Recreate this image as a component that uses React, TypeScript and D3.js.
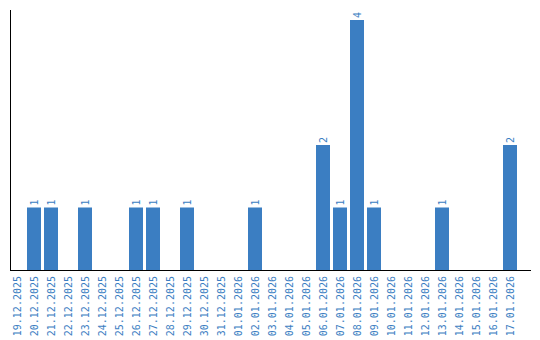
import React from "react";
import * as d3 from "d3";

const dates = [
  "19.12.2025", "20.12.2025", "21.12.2025", "22.12.2025", "23.12.2025", "24.12.2025",
  "25.12.2025", "26.12.2025", "27.12.2025", "28.12.2025", "29.12.2025", "30.12.2025",
  "31.12.2025", "01.01.2026", "02.01.2026", "03.01.2026", "04.01.2026", "05.01.2026",
  "06.01.2026", "07.01.2026", "08.01.2026", "09.01.2026", "10.01.2026", "11.01.2026",
  "12.01.2026", "13.01.2026", "14.01.2026", "15.01.2026", "16.01.2026", "17.01.2026",
];
const counts = [0, 1, 1, 0, 1, 0, 0, 1, 1, 0, 1, 0, 0, 0, 1, 0, 0, 0, 2, 1, 4, 1, 0, 0, 0, 1, 0, 0, 0, 2];

const W = 540;
const H = 340;
const BLUE = "#3b7ec2";
const FONT = "'DejaVu Sans Mono', monospace";

export default function App() {
  const x = d3.scaleBand<string>().domain(dates).range([8.5, 518.5]).paddingInner(3 / 17).paddingOuter(3 / 34);
  const y = d3.scaleLinear().domain([0, 4]).range([270, 20]);
  const bw = x.bandwidth();
  return (
    <svg width={W} height={H} style={{ position: "absolute", left: 0, top: 0, display: "block" }}>
      <rect width={W} height={H} fill="#fff" />
      {dates.map((d, i) => {
        const v = counts[i];
        const cx = (x(d) as number) + bw / 2;
        return (
          <g key={d}>
            {v > 0 && (
              <rect x={x(d)} y={y(v)} width={bw} height={y(0) - y(v)} fill={BLUE} />
            )}
            {v > 0 && (
              <text
                transform={`translate(${cx + 3.5},${y(v) - 2}) rotate(-90)`}
                fontFamily={FONT}
                fontSize={10}
                fill={BLUE}
              >
                {v}
              </text>
            )}
            <text
              transform={`translate(${cx + 3.5},276) rotate(-90)`}
              textAnchor="end"
              fontFamily={FONT}
              fontSize={10}
              fill={BLUE}
            >
              {d}
            </text>
          </g>
        );
      })}
      <line x1={10.5} x2={10.5} y1={10} y2={270.5} stroke="#000" strokeWidth={1} />
      <line x1={10} x2={531} y1={270.5} y2={270.5} stroke="#000" strokeWidth={1} />
    </svg>
  );
}
